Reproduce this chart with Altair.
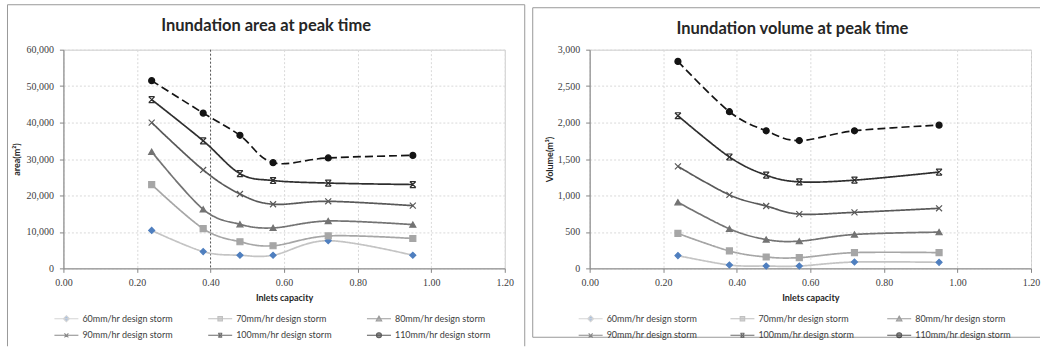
import altair as alt
import pandas as pd

# ---------------- data ----------------
inlet_capacity = [0.24, 0.38, 0.48, 0.57, 0.72, 0.95]
storms = ["60mm/hr design storm", "70mm/hr design storm", "80mm/hr design storm",
          "90mm/hr design storm", "100mm/hr design storm", "110mm/hr design storm"]

area_60 = [10400, 4600, 3600, 3600, 7600, 3600]
area_70 = [23000, 10900, 7300, 6200, 8900, 8200]
area_80 = [32000, 16200, 12100, 11100, 13000, 12000]
area_90 = [40000, 27000, 20400, 17600, 18400, 17200]
area_100 = [46300, 35000, 26000, 24100, 23400, 23000]
area_110 = [51500, 42600, 36500, 29000, 30300, 31000]

volume_60 = [175, 46, 32, 32, 87, 83]
volume_70 = [479, 239, 156, 147, 216, 216]
volume_80 = [907, 543, 396, 373, 465, 497]
volume_90 = [1399, 1008, 856, 745, 768, 824]
volume_100 = [2094, 1528, 1279, 1187, 1210, 1321]
volume_110 = [2839, 2149, 1887, 1753, 1887, 1965]

x_ticks = [0.0, 0.2, 0.4, 0.6, 0.8, 1.0, 1.2]
area_ticks = [0, 10000, 20000, 30000, 40000, 50000, 60000]
volume_ticks = [0, 500, 1000, 1500, 2000, 2500, 3000]
highlight_x = [0.40]
titles = ["Inundation area at peak time", "Inundation volume at peak time"]

# ---------------- styles ----------------
line_colors = ["#c4c4c4", "#a6a6a6", "#737373", "#595959", "#2e2e2e", "#141414"]
marker_fills = ["#4f7fbf", "#a6a6a6", "#737373", "transparent", "transparent", "#141414"]
marker_strokes = ["#4f7fbf", "#a6a6a6", "#737373", "#595959", "#2e2e2e", "#141414"]
dashes = [[1, 0], [1, 0], [1, 0], [1, 0], [1, 0], [8, 4]]
X_PATH = "M-1,-1L1,1M-1,1L1,-1"
HOUR_PATH = "M-1,-1L1,1M-1,1L1,-1M-1,-1H1M-1,1H1"
plot_shapes = ["diamond", "square", "triangle-up", X_PATH, HOUR_PATH, "circle"]
LINE = "M-2.4,0H2.4"
legend_shapes = [
    LINE + "M0,-0.6L0.6,0L0,0.6L-0.6,0Z",
    LINE + "M-0.45,-0.45H0.45V0.45H-0.45Z",
    LINE + "M0,-0.55L0.55,0.45H-0.55Z",
    LINE + "M-0.4,-0.4L0.4,0.4M-0.4,0.4L0.4,-0.4",
    LINE + "M-0.4,-0.4L0.4,0.4M-0.4,0.4L0.4,-0.4M-0.4,-0.4H0.4M-0.4,0.4H0.4",
    LINE + "M-0.5,0A0.5,0.5 0 1,0 0.5,0A0.5,0.5 0 1,0 -0.5,0Z",
]

TEXT = "#262626"
LABEL_FONT = "Liberation Serif"
FONT = "Lato"


def make_df(series):
    rows = []
    for name, vals in zip(storms, series):
        for c, v in zip(inlet_capacity, vals):
            rows.append({"storm": name, "capacity": c, "value": v})
    return pd.DataFrame(rows)


area_df = make_df([area_60, area_70, area_80, area_90, area_100, area_110])
volume_df = make_df([volume_60, volume_70, volume_80, volume_90, volume_100, volume_110])


def panel(df, y_title, y_ticks, y_max, title, height, box, title_y, legend_xy, col_pad,
          y_title_pad, highlight):
    x_enc = alt.X("capacity:Q",
                  scale=alt.Scale(domain=[0, 1.2], nice=False, zero=False),
                  axis=alt.Axis(values=x_ticks, format=".2f", title="Inlets capacity",
                                labelFont=LABEL_FONT, labelFontSize=10, labelColor="#404040",
                                labelFlush=False, labelOverlap=False,
                                tickSize=4, tickColor="#868686", domainColor="#868686",
                                gridColor="#d9d9d9", gridDash=[2, 2], labelPadding=5,
                                titleFont=FONT, titleFontSize=9, titleFontWeight="bold",
                                titleColor=TEXT, titlePadding=6))
    y_enc = alt.Y("value:Q",
                  scale=alt.Scale(domain=[0, y_max], nice=False),
                  axis=alt.Axis(values=y_ticks, format=",d", title=y_title,
                                labelFont=LABEL_FONT, labelFontSize=10, labelColor="#404040",
                                labelFlush=False, labelOverlap=False,
                                tickSize=4, tickColor="#868686", domainColor="#868686",
                                gridColor="#d9d9d9", gridDash=[2, 2], labelPadding=6,
                                titleFont=FONT, titleFontSize=9, titleFontWeight="bold",
                                titleColor=TEXT, titlePadding=y_title_pad))
    base = alt.Chart(df)
    layers = []
    if highlight:
        layers.append(
            alt.Chart(pd.DataFrame({"capacity": highlight_x}))
            .mark_rule(color="#5a5a5a", strokeDash=[2, 2], strokeWidth=1)
            .encode(x=x_enc)
        )
    lines = base.mark_line(interpolate="cardinal", strokeWidth=1.7).encode(
        x=x_enc, y=y_enc,
        color=alt.Color("storm:N", sort=storms, scale=alt.Scale(range=line_colors), legend=None),
        strokeDash=alt.StrokeDash("storm:N", sort=storms, scale=alt.Scale(range=dashes), legend=None),
    )
    layers.append(lines)
    for i, name in enumerate(storms):
        layers.append(
            base.transform_filter(alt.datum.storm == name)
            .mark_point(shape=plot_shapes[i], fill=marker_fills[i], stroke=marker_strokes[i],
                        strokeWidth=1.2, size=36, opacity=1)
            .encode(x=x_enc, y=y_enc)
        )
    leg = alt.Legend(title=None, orient="none", legendX=legend_xy[0], legendY=legend_xy[1],
                     direction="horizontal", columns=3, columnPadding=col_pad, rowPadding=5,
                     padding=0, symbolSize=100, labelOffset=10, symbolStrokeWidth=1.1,
                     labelFont=FONT, labelFontSize=9, labelColor="#404040", labelLimit=300)
    layers.append(
        base.transform_filter("datum.value < 0")
        .mark_point(filled=True, size=100)
        .encode(
            shape=alt.Shape("storm:N", scale=alt.Scale(domain=storms, range=legend_shapes), legend=leg),
            fill=alt.Fill("storm:N", scale=alt.Scale(domain=storms, range=marker_fills), legend=leg),
            stroke=alt.Stroke("storm:N", scale=alt.Scale(domain=storms, range=line_colors), legend=leg),
        )
    )
    one = pd.DataFrame({"k": [0]})
    # chart title as text
    layers.append(
        alt.Chart(one).mark_text(font=FONT, fontSize=16.5, fontWeight="bold", color=TEXT,
                                 align="center", baseline="middle")
        .encode(x=alt.value(203), y=alt.value(title_y), text=alt.value(title))
    )
    # panel frame (decoration)
    l, r, t, b, sides = box
    frame = alt.Chart(one)
    if "top" in sides:
        layers.append(frame.mark_rule(color="#999999", strokeWidth=1)
                      .encode(x=alt.value(l), x2=alt.value(r), y=alt.value(t)))
    if "bottom" in sides:
        layers.append(frame.mark_rule(color="#999999", strokeWidth=1)
                      .encode(x=alt.value(l), x2=alt.value(r), y=alt.value(b)))
    if "left" in sides:
        layers.append(frame.mark_rule(color="#999999", strokeWidth=1)
                      .encode(x=alt.value(l), y=alt.value(t), y2=alt.value(b)))
    if "right" in sides:
        layers.append(frame.mark_rule(color="#999999", strokeWidth=1)
                      .encode(x=alt.value(r), y=alt.value(t), y2=alt.value(b)))
    return alt.layer(*layers).properties(width=442, height=height)


left = panel(area_df, "area(m²)", area_ticks, 60000, titles[0], 219,
             (-56, 462, -45, 297, ("top", "left", "right")), -24, (-3, 263), 32, 4, True)
right = panel(volume_df, "Volume(m³)", volume_ticks, 3000, titles[1], 219,
              (-57, 451, -42, 288, ("top", "left", "bottom")), -21, (-5, 263), 30, 3, False)

chart = (
    alt.hconcat(left, right, spacing=6)
    .resolve_scale(shape="independent", fill="independent", stroke="independent",
                   color="independent", strokeDash="independent")
    .resolve_legend(shape="independent", fill="independent", stroke="independent")
    .properties(padding={"left": 6.5, "top": 3.5, "right": 0, "bottom": 0}, background="white")
    .configure_view(stroke="#cccccc", strokeWidth=1)
)

chart.save("out.html", embed_options={"renderer": "svg", "actions": False})
